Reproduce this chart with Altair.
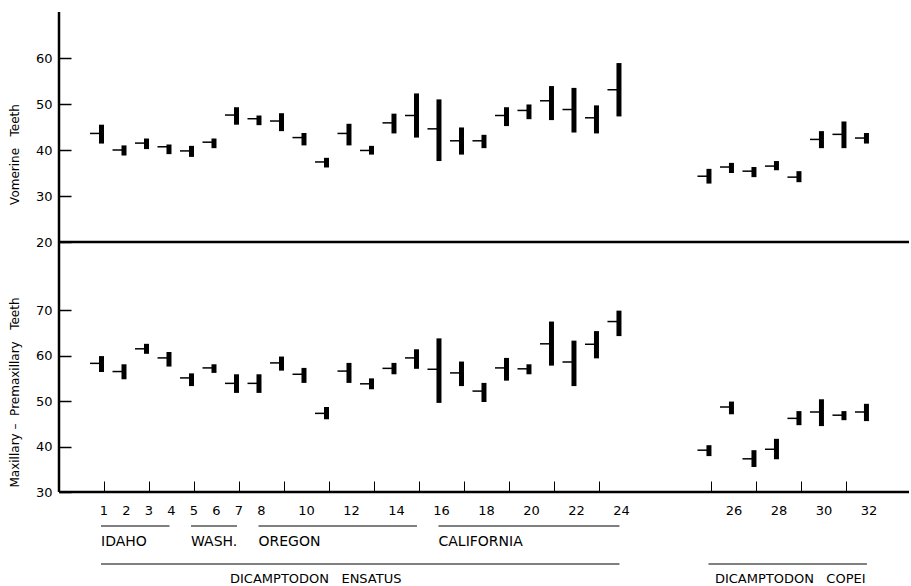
import altair as alt
import pandas as pd

samples = list(range(1, 33))

vom_mean = [43.6, 40.0, 41.5, 40.7, 39.8, 41.7, 47.6, 46.8, 46.3, 42.7, 37.4, 43.6,
            39.9, 45.9, 47.5, 44.6, 42.0, 42.0, 47.5, 48.6, 50.7, 48.8, 47.0, 53.1,
            34.3, 36.3, 35.4, 36.5, 34.1, 42.3, 43.4, 42.6]
vom_lo = [41.4, 38.8, 40.2, 39.1, 38.5, 40.4, 45.5, 45.4, 44.1, 41.0, 36.2, 41.0,
          39.0, 43.6, 42.7, 37.6, 39.0, 40.4, 45.2, 46.7, 46.5, 43.8, 43.6, 47.3,
          32.7, 35.0, 34.1, 35.6, 33.0, 40.4, 40.4, 41.4]
vom_hi = [45.5, 41.0, 42.5, 41.2, 40.9, 42.5, 49.3, 47.5, 48.0, 43.7, 38.3, 45.7,
          40.9, 47.9, 52.3, 51.0, 44.9, 43.3, 49.3, 49.9, 53.9, 53.5, 49.7, 58.9,
          35.9, 37.2, 36.3, 37.6, 35.4, 44.1, 46.2, 43.7]

max_mean = [58.3, 56.5, 61.5, 59.5, 55.1, 57.3, 53.9, 53.9, 58.4, 55.9, 47.3, 56.6,
            53.8, 57.2, 59.5, 57.0, 56.2, 52.2, 57.3, 57.1, 62.6, 58.6, 62.5, 67.5,
            39.2, 48.7, 37.3, 39.4, 46.2, 47.6, 46.9, 47.6]
max_lo = [56.4, 54.8, 60.4, 57.6, 53.3, 56.2, 51.8, 51.8, 56.7, 54.0, 46.0, 54.0,
          52.6, 55.9, 57.1, 49.6, 53.3, 49.8, 54.5, 55.9, 57.8, 53.3, 59.4, 64.3,
          37.9, 47.1, 35.5, 37.2, 44.7, 44.5, 45.8, 45.6]
max_hi = [59.9, 58.1, 62.6, 60.8, 56.1, 58.1, 55.9, 55.9, 59.8, 57.3, 48.7, 58.4,
          55.0, 58.4, 61.4, 63.8, 58.7, 54.0, 59.5, 58.1, 67.5, 63.3, 65.4, 69.9,
          40.3, 49.9, 39.2, 41.7, 47.8, 50.4, 47.8, 49.4]

vom_ticks = [20, 30, 40, 50, 60]
max_ticks = [30, 40, 50, 60, 70]

# sample numbers that carry a printed label under the axis
labelled_samples = [1, 2, 3, 4, 5, 6, 7, 8, 10, 12, 14, 16, 18, 20, 22, 24, 26, 28, 30, 32]

regions = ["IDAHO", "WASH.", "OREGON", "CALIFORNIA"]
region_start = [1, 5, 8, 16]
region_end = [4, 7, 15, 24]

species = ["DICAMPTODON\u00a0\u00a0\u00a0ENSATUS", "DICAMPTODON\u00a0\u00a0\u00a0COPEI"]
species_start = [1, 25]
species_end = [24, 32]


def pos(s):
    # samples of the second species are drawn after a gap of three places
    return s if s <= 24 else s + 3


df_v = pd.DataFrame({"sample": samples, "p": [pos(s) for s in samples],
                     "mean": vom_mean, "lo": vom_lo, "hi": vom_hi})
df_m = pd.DataFrame({"sample": samples, "p": [pos(s) for s in samples],
                     "mean": max_mean, "lo": max_lo, "hi": max_hi})
df_l = pd.DataFrame({"p": [pos(s) for s in labelled_samples],
                     "lab": [str(s) for s in labelled_samples]})
df_r = pd.DataFrame({"name": regions,
                     "ps": [pos(s) for s in region_start],
                     "pe": [pos(s) for s in region_end]})
df_s = pd.DataFrame({"name": species,
                     "ps": [pos(s) for s in species_start],
                     "pe": [pos(s) for s in species_end]})
df_s["pm"] = (df_s["ps"] + df_s["pe"]) / 2

xs = alt.Scale(domain=[-1, 36.78], nice=False, zero=False)
FONT = "DejaVu Sans"
W = 850


def panel(df, ydom, yticks, title, title_y, height, bottom):
    ys = alt.Scale(domain=ydom, nice=False, zero=False)
    yaxis = alt.Axis(values=yticks, offset=-12, tickSize=12, domain=False, grid=False,
                     labelFontSize=13, labelPadding=7, labelColor="black",
                     tickColor="black", tickWidth=1.5, title=title, titleFont=FONT,
                     titleFontSize=12, titleFontWeight="normal", titleColor="black",
                     titlePadding=14, titleY=title_y, labelFont=FONT)
    if bottom:
        p_vals = [pos(s) for s in samples]
        xaxis = alt.Axis(values=p_vals, offset=-11, tickSize=11, domain=False, grid=False,
                         tickColor="black", tickWidth=1, labels=False, title=None)
    else:
        xaxis = None
    base = alt.Chart(df)
    bars = base.mark_rule(strokeWidth=5, color="black", xOffset=-2.5).encode(
        x=alt.X("p:Q", scale=xs, axis=xaxis),
        y=alt.Y("lo:Q", scale=ys, axis=yaxis),
        y2="hi:Q",
    )
    means = base.mark_rule(strokeWidth=1.5, color="black", xOffset=-14, x2Offset=-2.5).encode(
        x="p:Q", x2="p:Q", y="mean:Q"
    )
    lines_df = pd.DataFrame({"v": [ydom[0]], "h": [-1]})
    hline = alt.Chart(lines_df).mark_rule(strokeWidth=2.5, color="black").encode(y="v:Q")
    vline = alt.Chart(lines_df).mark_rule(strokeWidth=2.5, color="black").encode(x="h:Q")
    layers = [bars, means, hline, vline]
    if bottom:
        tl = alt.Chart(df_l).mark_text(align="center", baseline="middle", font=FONT,
                                       fontSize=13, color="black").encode(
            x="p:Q", y=alt.value(height + 19), text="lab:N")
        rl = alt.Chart(df_r).mark_rule(strokeWidth=1, color="black", xOffset=-3, x2Offset=-2).encode(
            x="ps:Q", x2="pe:Q", y=alt.value(284))
        rt = alt.Chart(df_r).mark_text(align="left", baseline="middle", dx=-3, font=FONT,
                                       fontSize=14, color="black").encode(
            x="ps:Q", y=alt.value(300), text="name:N")
        sl = alt.Chart(df_s).mark_rule(strokeWidth=1, color="black", xOffset=-3, x2Offset=-2).encode(
            x="ps:Q", x2="pe:Q", y=alt.value(322))
        st1 = alt.Chart(df_s).transform_filter("datum.ps == 1").mark_text(
            align="center", baseline="middle", dx=-47, font=FONT, fontSize=13, color="black"
        ).encode(x="pm:Q", y=alt.value(337), text="name:N")
        st2 = alt.Chart(df_s).transform_filter("datum.ps > 1").mark_text(
            align="center", baseline="middle", font=FONT, fontSize=13, color="black"
        ).encode(x="pm:Q", y=alt.value(337), text="name:N")
        layers += [tl, rl, rt, sl, st1, st2]
    return alt.layer(*layers).properties(width=W, height=height)


top = panel(df_v, [20, 70], vom_ticks, "Vomerine\u00a0\u00a0\u00a0Teeth", 142, 230, False)
bot = panel(df_m, [30, 85], max_ticks,
            "Maxillary\u00a0\u2013\u00a0\u00a0Premaxillary\u00a0\u00a0\u00a0Teeth", 150, 250, True)

chart = (
    alt.vconcat(top, bot, spacing=0, bounds="flush")
    .properties(padding={"top": 10, "left": 8, "right": 0, "bottom": 0})
    .configure(font=FONT)
    .configure_view(stroke=None, strokeWidth=0)
)

chart.save("out.html", embed_options={"renderer": "svg", "actions": False})
